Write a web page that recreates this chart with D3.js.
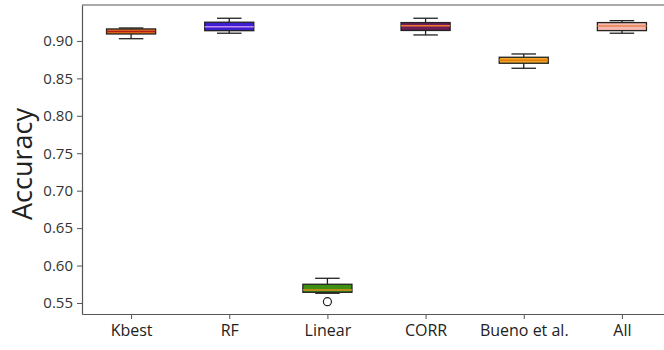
<!DOCTYPE html>
<html><head><meta charset="utf-8">
<script src="https://cdn.jsdelivr.net/npm/d3@7"></script>
<style>body{margin:0;background:#fff;}svg{display:block;}</style>
</head><body>
<script>
const categories = ["Kbest", "RF", "Linear", "CORR", "Bueno et al.", "All"];
const whiskerLow  = [0.9030, 0.9103, 0.5630, 0.9080, 0.8635, 0.9103];
const q1          = [0.9093, 0.9137, 0.5643, 0.9140, 0.8702, 0.9138];
const median      = [0.9127, 0.9191, 0.5674, 0.9204, 0.8742, 0.9200];
const q3          = [0.9160, 0.9250, 0.5750, 0.9245, 0.8782, 0.9245];
const whiskerHigh = [0.9173, 0.9303, 0.5830, 0.9303, 0.8826, 0.9271];
const outliers    = [[], [], [0.5517], [], [], []];
const yTicks = [0.55, 0.60, 0.65, 0.70, 0.75, 0.80, 0.85, 0.90];
const boxFill = ["#e8741a", "#3b1fd0", "#3f8f12", "#6e1f5a", "#f2a623", "#f6b9b1"];
const medColor = ["#b01d1d", "#c58cf0", "#e08a20", "#f0782a", "#e07a10", "#e8834e"];

const W = 664, H = 350;
const svg = d3.select("body").append("svg").attr("width", W).attr("height", H);

const x = d3.scaleLinear().domain([0.5, 6.5]).range([82, 671]);
const y = d3.scaleLinear().domain([0.5353, 0.948]).range([314, 5]);
const step = x(2) - x(1);
const bw = step * 0.5, cw = bw * 0.5;

const font = "'Open Sans', 'DejaVu Sans', sans-serif";

// top spine (right spine falls outside the picture)
svg.append("line").attr("x1", 82).attr("x2", W).attr("y1", 5).attr("y2", 5).attr("stroke", "#555").attr("stroke-width", 1.2);

// y axis
const yAx = svg.append("g").attr("transform", "translate(82,0)")
  .call(d3.axisLeft(y).tickValues(yTicks).tickFormat(d3.format(".2f")).tickSizeInner(5).tickSizeOuter(0).tickPadding(4));
yAx.select(".domain").attr("stroke", "#555").attr("stroke-width", 1.2);
yAx.selectAll(".tick line").attr("stroke", "#555");
yAx.selectAll("text").attr("font-family", font).attr("font-size", 15).attr("fill", "#333");

// x axis
const xAx = svg.append("g").attr("transform", "translate(0,314)")
  .call(d3.axisBottom(x).tickValues(d3.range(1, 7)).tickFormat((d) => categories[d - 1]).tickSizeInner(5).tickSizeOuter(0).tickPadding(6));
xAx.select(".domain").attr("stroke", "#555").attr("stroke-width", 1.2);
xAx.selectAll(".tick line").attr("stroke", "#555");
xAx.selectAll("text").attr("font-family", font).attr("font-size", 16).attr("fill", "#222");

// y label
svg.append("text").attr("transform", "translate(32,164) rotate(-90)").attr("text-anchor", "middle")
  .attr("font-family", font).attr("font-size", 27).attr("fill", "#222").text("Accuracy");

const g = svg.append("g");
categories.forEach((c, i) => {
  const cx = x(i + 1);
  const grp = g.append("g");
  grp.append("line").attr("x1", cx).attr("x2", cx).attr("y1", y(q3[i])).attr("y2", y(whiskerHigh[i])).attr("stroke", "#222").attr("stroke-width", 1.3);
  grp.append("line").attr("x1", cx).attr("x2", cx).attr("y1", y(q1[i])).attr("y2", y(whiskerLow[i])).attr("stroke", "#222").attr("stroke-width", 1.3);
  grp.append("line").attr("x1", cx - cw / 2).attr("x2", cx + cw / 2).attr("y1", y(whiskerHigh[i])).attr("y2", y(whiskerHigh[i])).attr("stroke", "#222").attr("stroke-width", 1.3);
  grp.append("line").attr("x1", cx - cw / 2).attr("x2", cx + cw / 2).attr("y1", y(whiskerLow[i])).attr("y2", y(whiskerLow[i])).attr("stroke", "#222").attr("stroke-width", 1.3);
  grp.append("rect").attr("x", cx - bw / 2).attr("width", bw).attr("y", y(q3[i])).attr("height", y(q1[i]) - y(q3[i]))
    .attr("fill", boxFill[i]).attr("stroke", "#222").attr("stroke-width", 1.3);
  grp.append("line").attr("x1", cx - bw / 2).attr("x2", cx + bw / 2).attr("y1", y(median[i])).attr("y2", y(median[i])).attr("stroke", medColor[i]).attr("stroke-width", 1.5);
  outliers[i].forEach((o) => {
    grp.append("circle").attr("cx", cx).attr("cy", y(o)).attr("r", 4).attr("fill", "none").attr("stroke", "#222").attr("stroke-width", 1.2);
  });
});
</script>
</body></html>
